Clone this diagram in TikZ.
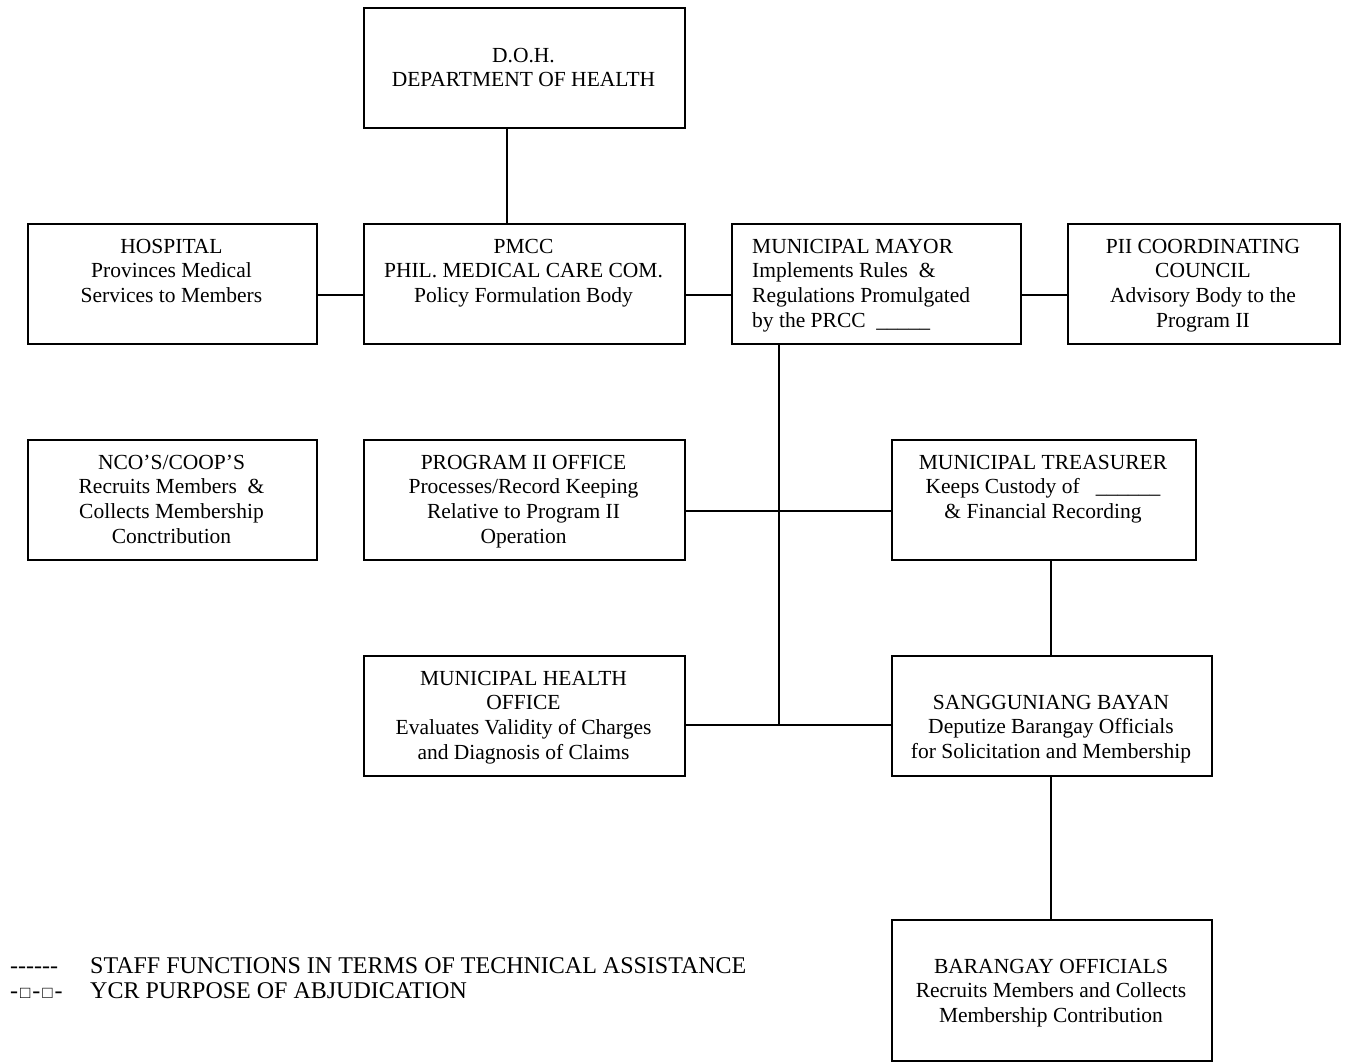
\documentclass[tikz,border=0pt]{standalone}
\usepackage{fontspec}
\setmainfont{Liberation Serif}
\newcommand{\lgsq}{\kern2pt{\fontsize{17}{17}\selectfont □}\kern2pt}
\begin{document}
\begin{tikzpicture}[x=1pt,y=-1pt,
  box/.style={draw,line width=1.5pt,rectangle,inner sep=0pt,anchor=north west},
  lbl/.style={align=center,anchor=base,inner sep=0pt,font=\fontsize{21.5}{24.8}\selectfont},
  leg/.style={anchor=base west,inner sep=0pt,font=\fontsize{24}{25}\selectfont},
  conn/.style={line width=1.5pt}]
\useasboundingbox (0,0) rectangle (1348,1061);
% boxes
\node[box,minimum width=321pt,minimum height=120pt] (doh) at (363,7) {};
\node[box,minimum width=289pt,minimum height=120pt] (hosp) at (27,223) {};
\node[box,minimum width=321pt,minimum height=120pt] (pmcc) at (363,223) {};
\node[box,minimum width=289pt,minimum height=120pt] (mayor) at (731,223) {};
\node[box,minimum width=272pt,minimum height=120pt] (pii) at (1067,223) {};
\node[box,minimum width=289pt,minimum height=120pt] (nco) at (27,439) {};
\node[box,minimum width=321pt,minimum height=120pt] (prog) at (363,439) {};
\node[box,minimum width=304pt,minimum height=120pt] (treas) at (891,439) {};
\node[box,minimum width=321pt,minimum height=120pt] (mho) at (363,655) {};
\node[box,minimum width=320pt,minimum height=120pt] (sb) at (891,655) {};
\node[box,minimum width=320pt,minimum height=141pt] (bar) at (891,919) {};
% texts (anchor base = baseline of last line)
\node[lbl] (tdoh) at (523.5,86.8) {D.O.H.\\DEPARTMENT OF HEALTH};
\node[lbl] (thosp) at (171.5,302.6) {HOSPITAL\\Provinces Medical\\Services to Members};
\node[lbl] (tpmcc) at (523.5,302.6) {PMCC\\PHIL. MEDICAL CARE COM.\\Policy Formulation Body};
\node[lbl,align=left,anchor=base west] (tmayor) at (752,327.4) {MUNICIPAL MAYOR\\Implements Rules~~\&\\Regulations Promulgated\\by the PRCC~~\_\_\_\_\_};
\node[lbl] (tpii) at (1203,327.4) {PII COORDINATING\\COUNCIL\\Advisory Body to the\\Program II};
\node[lbl] (tnco) at (171.5,543.4) {NCO'S/COOP'S\\Recruits Members~~\&\\Collects Membership\\Conctribution};
\node[lbl] (tprog) at (523.5,543.4) {PROGRAM II OFFICE\\Processes/Record Keeping\\Relative to Program II\\Operation};
\node[lbl] (ttreas) at (1043,518.6) {MUNICIPAL TREASURER\\Keeps Custody of~~~\_\_\_\_\_\_\\\& Financial Recording};
\node[lbl] (tmho) at (523.5,759.4) {MUNICIPAL HEALTH\\OFFICE\\Evaluates Validity of Charges\\and Diagnosis of Claims};
\node[lbl] (tsb) at (1051,758.6) {SANGGUNIANG BAYAN\\Deputize Barangay Officials\\for Solicitation and Membership};
\node[lbl] (tbar) at (1051,1022.6) {BARANGAY OFFICIALS\\Recruits Members and Collects\\Membership Contribution};
% legend
\node[leg] (l1a) at (10,973) {-\kern0pt-\kern0pt-\kern0pt-\kern0pt-\kern0pt-};
\node[leg] (l1b) at (90,973) {STAFF FUNCTIONS IN TERMS OF TECHNICAL ASSISTANCE};
\node[leg] (l2a) at (10,998) {-\lgsq-\lgsq-};
\node[leg] (l2b) at (90,998) {YCR PURPOSE OF ABJUDICATION};
% helper coordinates
\coordinate (vd) at (507,0);
\coordinate (vm) at (779,0);
\coordinate (vt) at (1051,0);
\coordinate (h1) at (0,295);
\coordinate (h2) at (0,511);
\coordinate (h3) at (0,725);
% connectors
\draw[conn] (doh.south -| vd) -- (pmcc.north -| vd);
\draw[conn] (hosp.east |- h1) -- (pmcc.west |- h1);
\draw[conn] (pmcc.east |- h1) -- (mayor.west |- h1);
\draw[conn] (mayor.east |- h1) -- (pii.west |- h1);
\draw[conn] (mayor.south -| vm) -- (vm |- h3);
\draw[conn] (prog.east |- h2) -- (treas.west |- h2);
\draw[conn] (mho.east |- h3) -- (sb.west |- h3);
\draw[conn] (treas.south -| vt) -- (sb.north -| vt);
\draw[conn] (sb.south -| vt) -- (bar.north -| vt);
\end{tikzpicture}
\end{document}
